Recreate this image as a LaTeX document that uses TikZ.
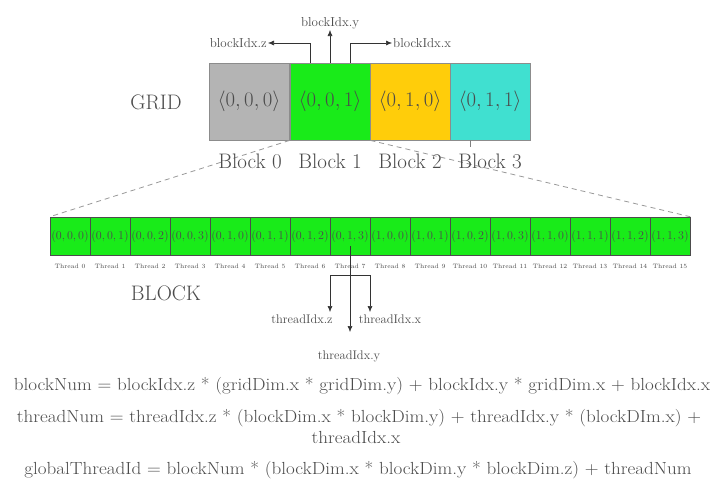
\documentclass[tikz,border=0pt]{standalone}
\usepackage{graphicx}
\usetikzlibrary{arrows.meta,calc}
\definecolor{gblock}{RGB}{180,180,180}
\definecolor{grblock}{RGB}{25,235,25}
\definecolor{yblock}{RGB}{255,205,10}
\definecolor{cblock}{RGB}{64,224,208}
\definecolor{txt}{RGB}{75,75,75}
\newcommand{\hstretch}[1]{\scalebox{1.09}[1]{#1}}
\begin{document}
\begin{tikzpicture}[x=1pt,y=-1pt,
  gridcell/.style={draw=black!45, line width=0.8pt, minimum width=80pt, minimum height=77pt, inner sep=0pt,
    font=\fontsize{19.5}{23}\selectfont, text=txt},
  tcell/.style={draw=black!70, line width=0.5pt, fill=grblock, minimum width=40pt, minimum height=38pt, inner sep=0pt,
    font=\fontsize{12.3}{14}\selectfont, text=txt},
  tlab/.style={font=\fontsize{6.3}{7}\selectfont, text=txt, inner sep=0pt},
  biglab/.style={font=\fontsize{21}{24}\selectfont, text=txt, inner sep=1pt},
  idx/.style={font=\fontsize{13}{15}\selectfont, text=txt, inner sep=1pt},
  tidx/.style={font=\fontsize{12.5}{14}\selectfont, text=txt, inner sep=1pt},
  formula/.style={font=\fontsize{17.5}{20}\selectfont, text=txt, inner sep=0pt},
  arr/.style={-{Latex[length=6pt,width=5pt]}, line width=0.6pt, black!80},
  dash line/.style={dashed, dash pattern=on 5pt off 4pt, black!40, line width=0.8pt}]
\useasboundingbox[fill=white] (0,0) rectangle (712,482);

% grid blocks
\node[gridcell, fill=gblock]  (b0) at (249,101.5) {$\langle 0,0,0\rangle$};
\node[gridcell, fill=grblock] (b1) at (330,101.5) {$\langle 0,0,1\rangle$};
\node[gridcell, fill=yblock]  (b2) at (410,101.5) {$\langle 0,1,0\rangle$};
\node[gridcell, fill=cblock]  (b3) at (490,101.5) {$\langle 0,1,1\rangle$};
\node[biglab] (grid) at (156,102) {GRID};

% thread cells
\foreach \lab [count=\i from 0] in {{0,0,0},{0,0,1},{0,0,2},{0,0,3},{0,1,0},{0,1,1},{0,1,2},{0,1,3},{1,0,0},{1,0,1},{1,0,2},{1,0,3},{1,1,0},{1,1,1},{1,1,2},{1,1,3}} {
  \node[tcell] (t\i) at ({70+40*\i},236) {$(\lab)$};
  \node[tlab] (tl\i) at ({70+40*\i},266) {Thread \i};
}
\node[biglab] (block) at (166,293) {BLOCK};

% zoom lines
\draw[dash line] (b1.south west) -- (t0.north west);
\draw[dash line] (b1.south east) -- (t15.north east);
\draw[black!50, line width=0.6pt] ([xshift=-20pt]b3.south) -- ++(0,7);

% block labels
\node[biglab] (l0) at (250,161) {Block 0};
\node[biglab] (l1) at (330,161) {Block 1};
\node[biglab] (l2) at (410,161) {Block 2};
\node[biglab] (l3) at (490,161) {Block 3};

% blockIdx arrows
\node[idx, anchor=east]  (bz) at (268,43) {blockIdx.z};
\node[idx, anchor=south] (by) at (330,30) {blockIdx.y};
\node[idx, anchor=west]  (bx) at (392,43) {blockIdx.x};
\draw[arr] ([xshift=-20pt]b1.north) |- (bz.east);
\draw[arr] (b1.north) -- (by.south);
\draw[arr] ([xshift=20pt]b1.north) |- (bx.west);

% threadIdx arrows
\coordinate (ts) at ($(t7.south)+(0,-9)$);
\coordinate (tj) at (350,275);
\coordinate (tzt) at (330,312);
\coordinate (txt) at (370,312);
\coordinate (tyt) at (350,332);
\node[tidx] (tz) at (302,319) {threadIdx.z};
\node[tidx] (tx) at (390,319) {threadIdx.x};
\node[tidx] (ty) at (349,356) {threadIdx.y};
\draw[arr] (ts) -- (tyt);
\draw[arr] (tj) -| (tzt);
\draw[arr] (tj) -| (txt);

% formulas
\node[formula] (f1) at (362,386) {\hstretch{blockNum = blockIdx.z * (gridDim.x * gridDim.y) + blockIdx.y * gridDim.x + blockIdx.x}};
\node[formula] (f2) at (359,418) {\hstretch{threadNum = threadIdx.z * (blockDim.x * blockDim.y) + threadIdx.y * (blockDIm.x) +}};
\node[formula] (f2b) at (356,437) {\hstretch{threadIdx.x}};
\node[formula] (f3) at (358,470) {\hstretch{globalThreadId = blockNum * (blockDim.x * blockDim.y * blockDim.z) + threadNum}};
\end{tikzpicture}
\end{document}
